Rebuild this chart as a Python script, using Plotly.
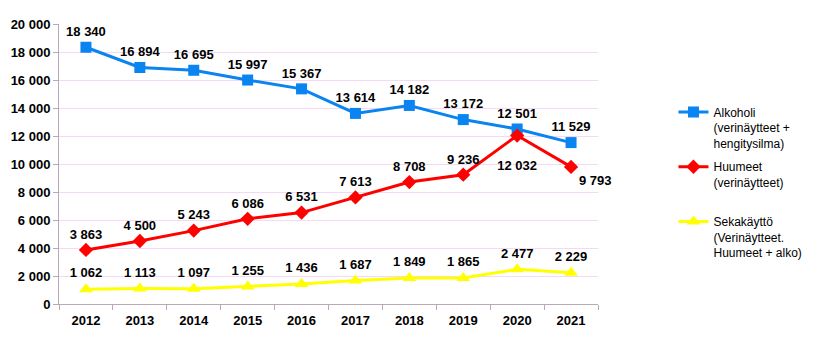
import plotly.graph_objects as go

years = ["2012", "2013", "2014", "2015", "2016", "2017", "2018", "2019", "2020", "2021"]
alkoholi = [18340, 16894, 16695, 15997, 15367, 13614, 14182, 13172, 12501, 11529]
huumeet = [3863, 4500, 5243, 6086, 6531, 7613, 8708, 9236, 12032, 9793]
seka = [1062, 1113, 1097, 1255, 1436, 1687, 1849, 1865, 2477, 2229]

names = ["Alkoholi<br>(verinäytteet +<br>hengitysilma)",
         "Huumeet<br>(verinäytteet)<br> ",
         "Sekakäyttö<br>(Verinäytteet.<br>Huumeet + alko)"]

def fmt(v):
    return f"{v:,}".replace(",", " ")

FONT = "Liberation Sans, Arial, sans-serif"

huu_text = [fmt(v) for v in huumeet]
huu_text[8] = "<br>" + huu_text[8]

fig = go.Figure()
series = [
    (alkoholi, [fmt(v) for v in alkoholi], names[0], "#0A84F0", "square", 11, ["top center"] * 10),
    (huumeet, huu_text, names[1], "#FF0000", "diamond", 11, ["top center"] * 8 + ["bottom center", "bottom right"]),
    (seka, [fmt(v) for v in seka], names[2], "#FFFF00", "triangle-up", 12, ["top center"] * 10),
]
for i, (vals, txt, nm, col, sym, sz, pos) in enumerate(series):
    fig.add_trace(go.Scatter(
        x=years, y=vals, name=nm, mode="lines+markers+text",
        line=dict(color=col, width=3),
        marker=dict(color=col, symbol=sym, size=sz),
        text=txt, textposition=pos,
        textfont=dict(family=FONT, size=13, color="black", weight="bold"),
        legendgroup=f"g{i}", cliponaxis=False,
    ))

fig.update_layout(
    width=825, height=337,
    margin=dict(l=59, r=227, t=24, b=33, autoexpand=False),
    plot_bgcolor="white", paper_bgcolor="white",
    font=dict(family=FONT, size=12, color="black"),
    separators=", ",
    showlegend=True,
    legend=dict(x=1.14, xanchor="left", y=0.737, yanchor="top",
                font=dict(family=FONT, size=12, color="black"),
                valign="top", tracegroupgap=5, itemwidth=30),
)
fig.update_xaxes(
    type="category", range=[-0.5, 9.5], autorange=False,
    showgrid=False, showline=True, linecolor="#B8A8B8", linewidth=1,
    ticks="outside", tickson="boundaries", ticklen=5, tickcolor="#B8A8B8",
    tickfont=dict(family=FONT, size=13, color="black", weight="bold"),
    automargin=False, ticklabelstandoff=4,
)
fig.update_yaxes(
    range=[0, 20000], dtick=2000, tickformat=",d",
    showgrid=True, gridcolor="#F6D8F6", gridwidth=1,
    showline=True, linecolor="#B8A8B8", linewidth=1,
    ticks="outside", ticklen=5, tickcolor="#B8A8B8",
    tickfont=dict(family=FONT, size=13, color="black", weight="bold"),
    zeroline=False, automargin=False,
)

fig.write_html("out.html")
